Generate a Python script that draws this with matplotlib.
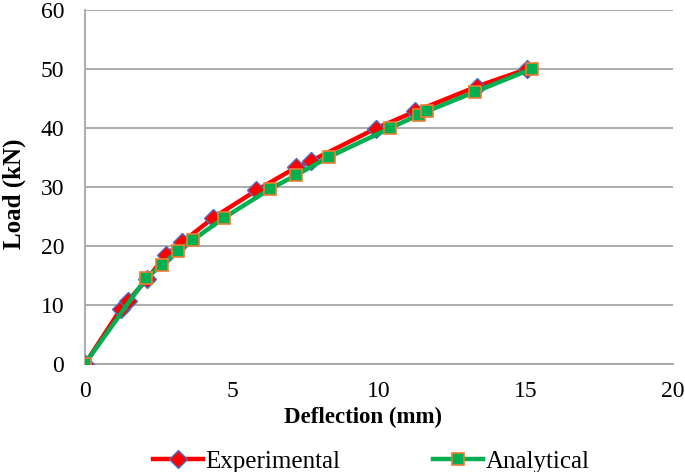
import matplotlib
matplotlib.use("Agg")
import matplotlib.pyplot as plt

plt.rcParams['font.family'] = ['Liberation Serif', 'DejaVu Serif']

exp_x = [0, 1.22, 1.45, 2.12, 2.74, 3.3, 4.37, 5.83, 7.18, 7.69, 9.89, 11.24, 13.32, 15.05]
exp_y = [0, 9.3, 10.6, 14.4, 18.4, 20.6, 24.8, 29.4, 33.3, 34.4, 39.9, 42.8, 47.0, 50.0]
ana_x = [0, 2.09, 2.62, 3.15, 3.67, 4.74, 6.28, 7.18, 8.31, 10.39, 11.35, 11.63, 13.26, 15.2]
ana_y = [0, 14.6, 16.8, 19.1, 21.0, 24.8, 29.6, 32.0, 35.1, 40.0, 42.2, 42.8, 46.1, 50.0]

fig = plt.figure(figsize=(6.85, 4.72), dpi=100)
ax = fig.add_axes([0.124, 0.229, 0.8585, 0.75])

ax.plot(exp_x, exp_y, color='#FF0000', lw=3.2, marker='D', ms=9,
        mfc='#FF0000', mec='#4472C4', mew=1.0, label='Experimental', zorder=3)
ax.plot(ana_x, ana_y, color='#00B050', lw=3.2, marker='s', ms=8.5,
        mfc='#00B050', mec='#ED7D31', mew=1.2, label='Analytical', zorder=4)

ax.set_xlim(0, 20)
ax.set_ylim(0, 60)
ax.set_xticks([0, 5, 10, 15, 20])
ax.set_yticks([0, 10, 20, 30, 40, 50, 60])
ax.yaxis.grid(True, color='#A6A6A6', lw=1.3)
ax.set_axisbelow(True)
for s in ['top', 'right']:
    ax.spines[s].set_visible(False)
ax.spines['left'].set_color('#A6A6A6')
ax.spines['bottom'].set_color('#A6A6A6')
ax.spines['left'].set_linewidth(1.3)
ax.spines['bottom'].set_linewidth(1.3)
ax.tick_params(axis='both', length=0, labelsize=17)
ax.tick_params(axis='y', pad=15)
ax.tick_params(axis='x', pad=12)
ax.set_xlabel('Deflection (mm)', fontsize=16.5, fontweight='bold')
ax.set_ylabel('Load (kN)', fontsize=18, fontweight='bold')
ax.xaxis.set_label_coords(0.473, -0.122)
ax.yaxis.set_label_coords(-0.100, 0.48)

fig.legend(loc='center', ncol=2, bbox_to_anchor=(0.542, 0.022), frameon=False,
           fontsize=18, handlelength=2.0, columnspacing=3.7, handletextpad=0.1,
           borderpad=0, borderaxespad=0)

fig.savefig('out.png', dpi=100)
